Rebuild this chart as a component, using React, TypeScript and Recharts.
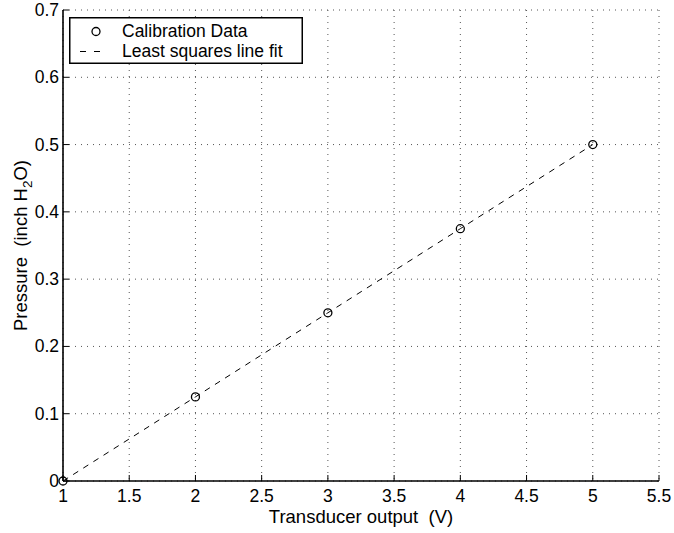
import React from "react";
import { ComposedChart, Line, Scatter, XAxis, YAxis, CartesianGrid, Legend } from "recharts";

const voltages = [1, 2, 3, 4, 5];
const pressures = [0, 0.125, 0.25, 0.375, 0.5];
const fitValues = [0, 0.125, 0.25, 0.375, 0.5];
const xTicks = [1, 1.5, 2, 2.5, 3, 3.5, 4, 4.5, 5, 5.5];
const yTicks = [0, 0.1, 0.2, 0.3, 0.4, 0.5, 0.6, 0.7];

const data = voltages.map((v, i) => ({ v, pressure: pressures[i], fit: fitValues[i] }));

const FONT = "'Liberation Sans', Arial, Helvetica, sans-serif";
const FS = 17.5;
const LABEL_FS = 18.5;
const TICK = 6;
const AXIS = { stroke: "#000", strokeWidth: 1.6 };

function BottomTick({ x, y, payload }: any) {
  return (
    <g>
      <line x1={x} y1={y} x2={x} y2={y - TICK} stroke="#000" />
      <text x={x} y={y + 21} textAnchor="middle" fontSize={FS} fontFamily={FONT} fill="#000">
        {String(payload.value)}
      </text>
    </g>
  );
}

function TopTick({ x, y }: any) {
  return <line x1={x} y1={y} x2={x} y2={y + TICK} stroke="#000" />;
}

function LeftTick({ x, y, payload }: any) {
  return (
    <g>
      <line x1={x} y1={y} x2={x + TICK} y2={y} stroke="#000" />
      <text x={x - 4} y={y + 6} textAnchor="end" fontSize={FS} fontFamily={FONT} fill="#000">
        {String(payload.value)}
      </text>
    </g>
  );
}

function RightTick({ x, y }: any) {
  return <line x1={x} y1={y} x2={x - TICK} y2={y} stroke="#000" />;
}

function YLabel({ viewBox }: any) {
  const cx = 27;
  const cy = viewBox.y + viewBox.height / 2;
  return (
    <text
      x={cx}
      y={cy}
      transform={`rotate(-90, ${cx}, ${cy})`}
      textAnchor="middle"
      fontSize={LABEL_FS}
      fontFamily={FONT}
      fill="#000"
    >
      {"Pressure\u00a0\u00a0(inch H"}
      <tspan dy={5} fontSize={13.5}>2</tspan>
      <tspan dy={-5}>O)</tspan>
    </text>
  );
}

function LegendBox() {
  return (
    <svg width={234} height={47} style={{ display: "block" }}>
      <rect x={0.75} y={0.75} width={232.5} height={45.5} fill="#fff" stroke="#000" strokeWidth={1.5} />
      <circle cx={27} cy={14.5} r={4} fill="none" stroke="#000" strokeWidth={1.3} />
      <line x1={11} y1={34.5} x2={38} y2={34.5} stroke="#000" strokeDasharray="6 8" />
      <text x={53} y={20} fontSize={FS} fontFamily={FONT} fill="#000">Calibration Data</text>
      <text x={53} y={40} fontSize={FS} fontFamily={FONT} fill="#000">Least squares line fit</text>
    </svg>
  );
}

export default function App() {
  return (
    <div style={{ position: "absolute", left: 0, top: 0, background: "#fff" }}>
      <ComposedChart width={674} height={533} data={data} margin={{ top: 10, right: 15, bottom: 0, left: 0 }}>
        <CartesianGrid stroke="#555" strokeDasharray="1 5" />
        <XAxis
          dataKey="v"
          type="number"
          domain={[1, 5.5]}
          ticks={xTicks}
          interval={0}
          height={52}
          tickSize={0}
          tickMargin={0}
          tick={<BottomTick />}
          axisLine={AXIS}
          label={{
            value: "Transducer output\u00a0\u00a0(V)",
            position: "insideBottom",
            offset: 10,
            fontSize: LABEL_FS,
            fontFamily: FONT,
            fill: "#000",
          }}
        />
        <XAxis
          xAxisId="top"
          orientation="top"
          type="number"
          dataKey="v"
          domain={[1, 5.5]}
          ticks={xTicks}
          interval={0}
          height={0}
          tickSize={0}
          tickMargin={0}
          tick={<TopTick />}
          axisLine={AXIS}
        />
        <YAxis
          type="number"
          domain={[0, 0.7]}
          ticks={yTicks}
          interval={0}
          width={63}
          tickSize={0}
          tickMargin={0}
          tick={<LeftTick />}
          axisLine={AXIS}
          label={<YLabel />}
        />
        <YAxis
          yAxisId="right"
          orientation="right"
          type="number"
          domain={[0, 0.7]}
          ticks={yTicks}
          interval={0}
          width={0}
          tickSize={0}
          tickMargin={0}
          tick={<RightTick />}
          axisLine={AXIS}
        />
        <Line
          dataKey="fit"
          type="linear"
          stroke="#000"
          strokeWidth={1}
          strokeDasharray="6 6"
          dot={false}
          isAnimationActive={false}
        />
        <Scatter
          dataKey="pressure"
          fill="none"
          stroke="#000"
          shape={(p: any) => <circle cx={p.cx} cy={p.cy} r={4} fill="none" stroke="#000" strokeWidth={1.3} />}
          isAnimationActive={false}
        />
        <Legend
          layout="vertical"
          align="center"
          verticalAlign="middle"
          wrapperStyle={{ left: 69, top: 17, width: 234 }}
          content={() => <LegendBox />}
        />
      </ComposedChart>
    </div>
  );
}
